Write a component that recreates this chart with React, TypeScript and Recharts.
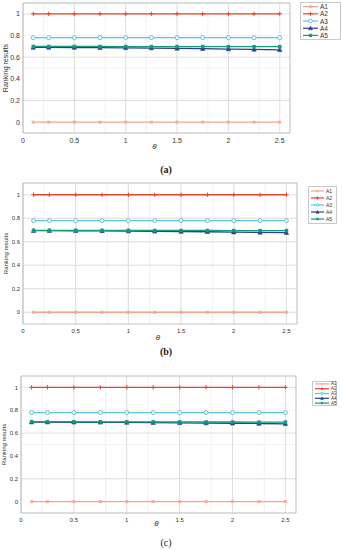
import React from "react";
import {
  LineChart,
  Line,
  XAxis,
  YAxis,
  CartesianGrid,
  ReferenceArea,
  Legend,
} from "recharts";

const thetaValues = [0.1, 0.25, 0.5, 0.75, 1, 1.25, 1.5, 1.75, 2, 2.25, 2.5];
const seriesNames = ["A1", "A2", "A3", "A4", "A5"];
const xTicks = [0, 0.5, 1, 1.5, 2, 2.5];
const yTicks = [0, 0.2, 0.4, 0.6, 0.8, 1];

const a1Values = [0, 0, 0, 0, 0, 0, 0, 0, 0, 0, 0];
const a2Values = [1, 1, 1, 1, 1, 1, 1, 1, 1, 1, 1];
const a3Values = [0.78, 0.78, 0.78, 0.78, 0.78, 0.78, 0.78, 0.78, 0.78, 0.78, 0.78];

// panel (a)
const a4ValuesA = [0.69, 0.69, 0.689, 0.688, 0.686, 0.684, 0.681, 0.678, 0.675, 0.672, 0.668];
const a5ValuesA = [0.699, 0.699, 0.699, 0.699, 0.698, 0.698, 0.698, 0.698, 0.697, 0.697, 0.697];
// panel (b)
const a4ValuesB = [0.694, 0.694, 0.693, 0.692, 0.691, 0.689, 0.687, 0.685, 0.682, 0.679, 0.677];
const a5ValuesB = [0.697, 0.697, 0.697, 0.697, 0.697, 0.696, 0.696, 0.696, 0.695, 0.695, 0.695];
// panel (c)
const a4ValuesC = [0.696, 0.696, 0.695, 0.694, 0.693, 0.691, 0.69, 0.688, 0.686, 0.684, 0.681];
const a5ValuesC = [0.7, 0.7, 0.699, 0.699, 0.699, 0.698, 0.698, 0.697, 0.697, 0.696, 0.696];

const colors = ["#f6a58c", "#e8452f", "#5cc2e0", "#2d3e8e", "#109c7e"];
const shapes = ["square", "plus", "circle", "triangle", "filled"];

const minorX = Array.from({ length: 27 }, (_, i) => i / 10);
const minorY = Array.from({ length: 13 }, (_, i) => -0.1 + i / 10);

const FONT = "Liberation Sans, Arial, sans-serif";

const buildRows = (a4: number[], a5: number[]) =>
  thetaValues.map((t, i) => ({
    theta: t,
    A1: a1Values[i],
    A2: a2Values[i],
    A3: a3Values[i],
    A4: a4[i],
    A5: a5[i],
  }));

const Marker = ({ shape, color, x, y, s }: any) => {
  if (shape === "plus")
    return (
      <g>
        <line x1={x - s} x2={x + s} y1={y} y2={y} stroke={color} strokeWidth={1} />
        <line x1={x} x2={x} y1={y - s} y2={y + s} stroke={color} strokeWidth={1} />
      </g>
    );
  if (shape === "circle")
    return <circle cx={x} cy={y} r={s * 0.9} fill="#fff" stroke={color} strokeWidth={1} />;
  if (shape === "triangle")
    return (
      <polygon
        points={`${x},${y - s} ${x - s},${y + s * 0.8} ${x + s},${y + s * 0.8}`}
        fill={color}
        stroke={color}
        strokeWidth={0.6}
      />
    );
  if (shape === "filled")
    return <rect x={x - s * 0.8} y={y - s * 0.8} width={s * 1.6} height={s * 1.6} fill={color} />;
  return (
    <rect x={x - s * 0.7} y={y - s * 0.7} width={s * 1.4} height={s * 1.4} fill={color} opacity={0.8} />
  );
};

const makeDot = (shape: string, color: string, s: number) => (p: any) =>
  <Marker key={`${shape}-${p.index}`} shape={shape} color={color} x={p.cx} y={p.cy} s={s} />;

interface PanelProps {
  rows: any[];
  l: number;
  r: number;
  t: number;
  b: number;
  tickFont: number;
  yLabelX: number;
  thetaDy: number;
  legend: { x: number; y: number; w: number; h: number; row: number; font: number; line: number };
  caption: string;
  captionY: number;
  captionBold: boolean;
}

const Panel = ({
  rows,
  l,
  r,
  t,
  b,
  tickFont,
  yLabelX,
  thetaDy,
  legend,
  caption,
  captionY,
  captionBold,
}: PanelProps) => {
  const chartTop = t - 3;
  const height = b - t + 3 + 22;

  const renderLegend = () => (
    <svg width={legend.w} height={legend.h} style={{ display: "block" }}>
      <rect x={0.5} y={0.5} width={legend.w - 1} height={legend.h - 1} fill="#fff" stroke="#c8c8c8" />
      {seriesNames.map((name, i) => {
        const cy = legend.row * (i + 0.5) + (legend.h - legend.row * 5) / 2;
        const x1 = 3;
        const x2 = 3 + legend.line;
        return (
          <g key={name}>
            <line x1={x1} x2={x2} y1={cy} y2={cy} stroke={colors[i]} strokeWidth={1.2} />
            <Marker shape={shapes[i]} color={colors[i]} x={(x1 + x2) / 2} y={cy} s={legend.font * 0.3} />
            <text x={x2 + 2} y={cy} dominantBaseline="central" fontSize={legend.font} fill="#333" fontFamily={FONT}>
              {name}
            </text>
          </g>
        );
      })}
    </svg>
  );

  return (
    <>
      <div style={{ position: "absolute", left: 0, top: chartTop }}>
        <LineChart
          width={342}
          height={height}
          data={rows}
          margin={{ top: 3, right: 342 - r, left: 0, bottom: 0 }}
        >
          <CartesianGrid stroke="#ececec" strokeWidth={0.7} verticalValues={minorX} horizontalValues={minorY} />
          <CartesianGrid stroke="#dadada" strokeWidth={0.8} verticalValues={xTicks} horizontalValues={yTicks} />
          <XAxis
            dataKey="theta"
            type="number"
            domain={[0, 2.6]}
            ticks={xTicks}
            axisLine={false}
            tickLine={false}
            tickSize={0}
            tickMargin={5}
            height={22}
            tick={{ fontSize: tickFont, fill: "#333", fontFamily: FONT }}
            label={{
              content: ({ viewBox }: any) => (
                <text
                  x={viewBox.x + viewBox.width / 2 - 2}
                  y={viewBox.y + thetaDy}
                  textAnchor="middle"
                  dominantBaseline="central"
                  fontSize={8}
                  fontStyle="italic"
                  fill="#333"
                  fontFamily={FONT}
                >
                  θ
                </text>
              ),
            }}
          />
          <YAxis
            type="number"
            domain={[-0.1, 1.1]}
            ticks={yTicks}
            width={l}
            axisLine={false}
            tickLine={false}
            tickSize={0}
            tickMargin={3}
            tick={{ fontSize: tickFont, fill: "#333", fontFamily: FONT }}
            label={{
              content: ({ viewBox }: any) => {
                const cy = viewBox.y + viewBox.height / 2;
                return (
                  <text
                    x={yLabelX}
                    y={cy}
                    transform={`rotate(-90, ${yLabelX}, ${cy})`}
                    textAnchor="middle"
                    dominantBaseline="central"
                    fontSize={tickFont}
                    fill="#333"
                    fontFamily={FONT}
                  >
                    Ranking results
                  </text>
                );
              },
            }}
          />
          <ReferenceArea x1={0} x2={2.6} y1={-0.1} y2={1.1} fill="none" stroke="#b4b4b4" strokeWidth={0.8} />
          {seriesNames.map((name, i) => (
            <Line
              key={name}
              dataKey={name}
              type="linear"
              stroke={colors[i]}
              strokeWidth={1.3}
              dot={makeDot(shapes[i], colors[i], 2.2)}
              activeDot={false}
              isAnimationActive={false}
            />
          ))}
          <Legend
            layout="horizontal"
            verticalAlign="middle"
            align="center"
            content={renderLegend}
            wrapperStyle={{
              position: "absolute",
              left: legend.x,
              top: legend.y - chartTop,
              width: legend.w,
              height: legend.h,
            }}
          />
        </LineChart>
      </div>
      <div
        style={{
          position: "absolute",
          left: 0,
          width: 332,
          top: captionY - 7,
          height: 14,
          lineHeight: "14px",
          textAlign: "center",
          fontFamily: "Liberation Serif, Times New Roman, serif",
          fontWeight: captionBold ? "bold" : "normal",
          fontSize: 10,
          color: "#222",
        }}
      >
        {caption}
      </div>
    </>
  );
};

const App = () => {
  return (
    <div style={{ position: "absolute", left: 0, top: 0, width: 342, height: 550, background: "#fff" }}>
      <Panel
        rows={buildRows(a4ValuesA, a5ValuesA)}
        l={23}
        r={290}
        t={3}
        b={133}
        tickFont={7}
        yLabelX={5}
        thetaDy={13}
        legend={{ x: 300, y: 2, w: 41, h: 38, row: 7.2, font: 6.5, line: 15 }}
        caption="(a)"
        captionY={170}
        captionBold={true}
      />
      <Panel
        rows={buildRows(a4ValuesB, a5ValuesB)}
        l={23}
        r={297}
        t={183}
        b={324}
        tickFont={6}
        yLabelX={6}
        thetaDy={13}
        legend={{ x: 308, y: 186, w: 29, h: 38, row: 7, font: 5, line: 13 }}
        caption="(b)"
        captionY={352}
        captionBold={true}
      />
      <Panel
        rows={buildRows(a4ValuesC, a5ValuesC)}
        l={21}
        r={296}
        t={376}
        b={513}
        tickFont={6}
        yLabelX={4}
        thetaDy={10}
        legend={{ x: 312, y: 381, w: 25, h: 25, row: 4.8, font: 4.5, line: 14 }}
        caption="(c)"
        captionY={543}
        captionBold={false}
      />
    </div>
  );
};

export default App;
